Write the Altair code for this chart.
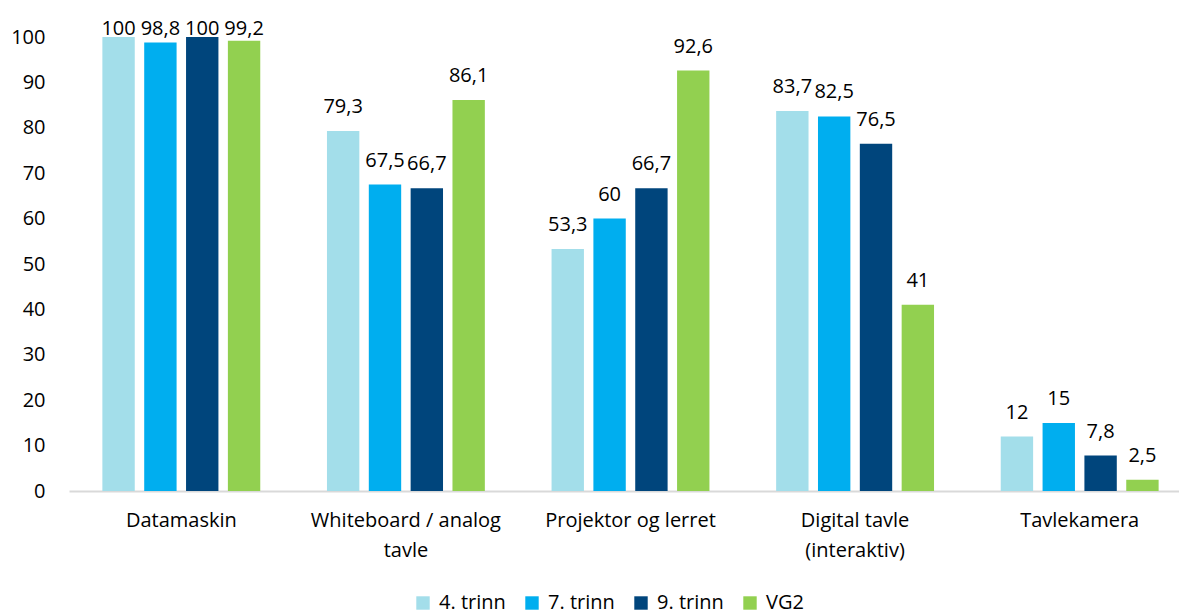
import altair as alt
import pandas as pd

# Equipment categories and share (%) per school level
categories = [
    "Datamaskin",
    "Whiteboard / analog tavle",
    "Projektor og lerret",
    "Digital tavle (interaktiv)",
    "Tavlekamera",
]
levels = ["4. trinn", "7. trinn", "9. trinn", "VG2"]
trinn4 = [100, 79.3, 53.3, 83.7, 12]
trinn7 = [98.8, 67.5, 60, 82.5, 15]
trinn9 = [100, 66.7, 66.7, 76.5, 7.8]
vg2 = [99.2, 86.1, 92.6, 41, 2.5]
colors = ["#A3DEEA", "#00AEEF", "#00457C", "#92D050"]


def fmt(v):
    s = str(int(v)) if float(v).is_integer() else str(v)
    return s.replace(".", ",")


rows = []
for level, series in zip(levels, [trinn4, trinn7, trinn9, vg2]):
    for cat, v in zip(categories, series):
        rows.append({"kategori": cat, "trinn": level, "verdi": v, "etikett": fmt(v)})
df = pd.DataFrame(rows)

FONT = "Open Sans"
FS = 20

# The category axis runs slightly past the right edge of the page
x_scale = alt.Scale(paddingInner=0.297, paddingOuter=0.1486, range=[0, 1123])

x_enc = alt.X(
    "kategori:N",
    sort=categories,
    scale=x_scale,
    axis=alt.Axis(
        title=None,
        labelAngle=0,
        ticks=False,
        domainColor="#D9D9D9",
        domainWidth=2,
        labelPadding=19,
        labelFontSize=FS,
        labelLineHeight=30,
        labelLimit=0,
        labelColor="#000000",
        labelFont=FONT,
        labelExpr="datum.label == 'Whiteboard / analog tavle' ? ['Whiteboard / analog', 'tavle'] : "
        "datum.label == 'Digital tavle (interaktiv)' ? ['Digital tavle', '(interaktiv)'] : datum.label",
    ),
)
xoff_enc = alt.XOffset("trinn:N", sort=levels, scale=alt.Scale(paddingInner=0.226))

bars = alt.Chart(df).mark_bar().encode(
    x=x_enc,
    xOffset=xoff_enc,
    y=alt.Y(
        "verdi:Q",
        scale=alt.Scale(domain=[0, 100], nice=False),
        axis=alt.Axis(
            title=None,
            values=list(range(0, 101, 10)),
            domain=False,
            ticks=False,
            grid=False,
            labelPadding=24,
            labelFontSize=FS,
            labelColor="#000000",
            labelFont=FONT,
        ),
    ),
    color=alt.Color(
        "trinn:N",
        sort=levels,
        scale=alt.Scale(domain=levels, range=colors),
        legend=alt.Legend(
            title=None,
            orient="none",
            direction="horizontal",
            legendX=344,
            legendY=556,
            symbolType="square",
            symbolSize=180,
            symbolStrokeWidth=0,
            symbolOpacity=1,
            labelFontSize=FS,
            labelFont=FONT,
            labelColor="#000000",
            columnPadding=16,
            labelOffset=6,
        ),
    ),
)

# Value labels above each bar, held just under the top edge for the tallest bars
labels = (
    alt.Chart(df)
    .transform_calculate(ly="min(datum.verdi + 3.96, 100.4)")
    .mark_text(baseline="alphabetic", fontSize=FS, font=FONT, color="#000000")
    .encode(
        x=alt.X("kategori:N", sort=categories),
        xOffset=alt.XOffset("trinn:N", sort=levels),
        y=alt.Y("ly:Q"),
        text="etikett:N",
    )
)

chart = (
    alt.layer(bars, labels)
    .properties(
        width=1110,
        height=454,
        autosize=alt.AutoSizeParams(type="none"),
        padding={"left": 69, "top": 37, "right": 0, "bottom": 124},
        background="#FFFFFF",
    )
    .configure_view(stroke=None)
)

chart.save("out.html", embed_options={"renderer": "svg", "actions": False})
